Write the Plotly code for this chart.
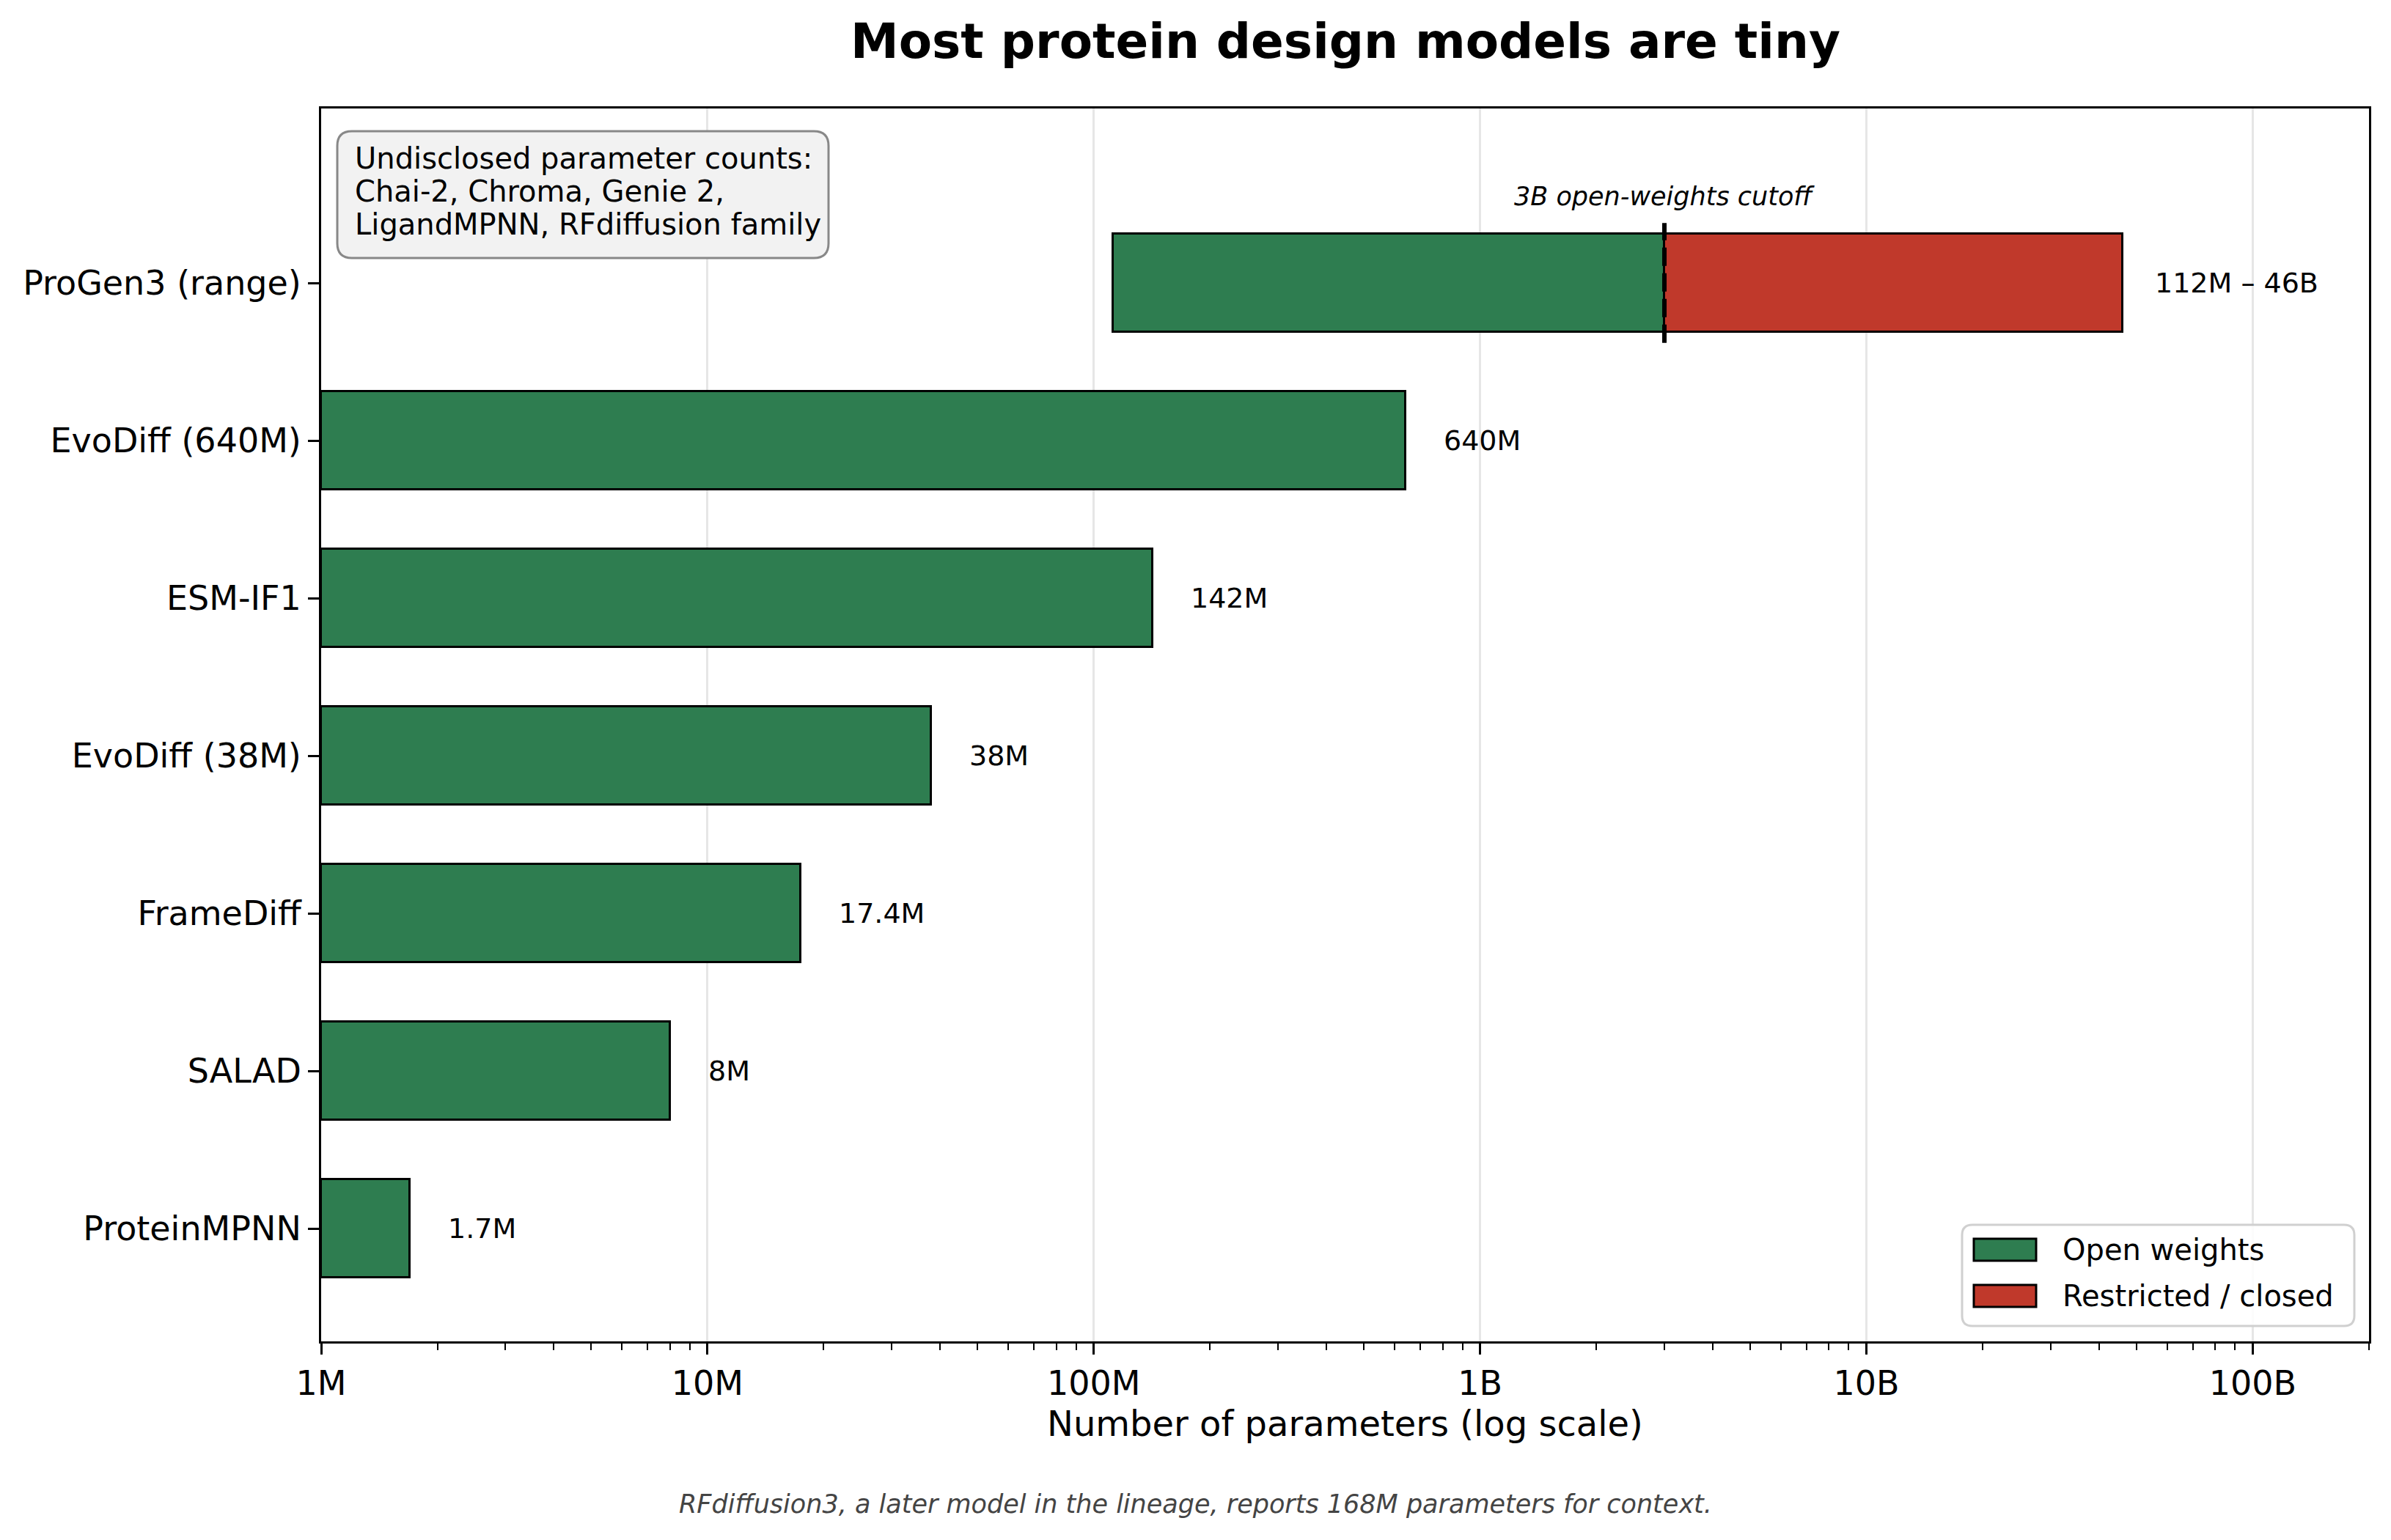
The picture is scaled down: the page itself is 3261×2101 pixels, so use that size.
import math
import plotly.graph_objects as go

# ---------------- data ----------------
models = ["ProteinMPNN", "SALAD", "FrameDiff", "EvoDiff (38M)", "ESM-IF1",
          "EvoDiff (640M)", "ProGen3 (range)"]
open_params = [1.7e6, 8e6, 17.4e6, 38e6, 142e6, 640e6]   # single-size open models
open_labels = ["1.7M", "8M", "17.4M", "38M", "142M", "640M"]
progen_min = 112e6
progen_max = 46e9
progen_label = "112M \u2013 46B"
open_cutoff = 3e9
axis_min = 1e6
axis_max = 2e11
tick_vals = [1e6, 1e7, 1e8, 1e9, 1e10, 1e11]
tick_text = ["1M", "10M", "100M", "1B", "10B", "100B"]
box_lines = ["Undisclosed parameter counts:",
             "Chai-2, Chroma, Genie 2,",
             "LigandMPNN, RFdiffusion family"]

GREEN = "#2e7d50"
RED = "#c0392b"
FONT = "DejaVu Sans, Verdana, sans-serif"

# ---------------- geometry (pixels) ----------------
W, H = 3261, 2101
L, R, T, B = 438, 3231, 148, 1830
PW, PH = R - L, B - T
BAR_W = 0.62

def px2paper(x, y):
    return (x - L) / PW, 1 - (y - T) / PH

def rounded_rect(x0, y0, x1, y1, r):
    rx, ry = r / PW, r / PH
    a0, b0 = px2paper(x0, y0)
    a1, b1 = px2paper(x1, y1)
    return (f"M {a0+rx},{b0} L {a1-rx},{b0} Q {a1},{b0} {a1},{b0-ry} "
            f"L {a1},{b1+ry} Q {a1},{b1} {a1-rx},{b1} L {a0+rx},{b1} "
            f"Q {a0},{b1} {a0},{b1+ry} L {a0},{b0-ry} Q {a0},{b0} {a0+rx},{b0} Z")

n_open = len(open_params)
y_pos = list(range(len(models)))
prog_y = y_pos[-1]

fig = go.Figure()

open_base = [axis_min] * n_open + [progen_min]
open_end = open_params + [open_cutoff]
fig.add_trace(go.Bar(
    y=y_pos, x=[e - b for e, b in zip(open_end, open_base)], base=open_base,
    orientation="h", width=BAR_W, name="Open weights",
    marker=dict(color=GREEN, line=dict(color="black", width=3)),
    showlegend=False, hoverinfo="skip"))

fig.add_trace(go.Bar(
    y=[prog_y], x=[progen_max - open_cutoff], base=[open_cutoff],
    orientation="h", width=BAR_W, name="Restricted / closed",
    marker=dict(color=RED, line=dict(color="black", width=3)),
    showlegend=False, hoverinfo="skip"))

fig.add_trace(go.Scatter(
    x=[open_cutoff, open_cutoff], y=[prog_y - 0.38, prog_y + 0.38],
    mode="lines", line=dict(color="black", width=6, dash="25px,10px"),
    showlegend=False, hoverinfo="skip"))

annotations = []
for yv, v, lab in zip(y_pos[:n_open], open_params, open_labels):
    annotations.append(dict(x=math.log10(v), y=yv, xref="x", yref="y", text=lab,
                            showarrow=False, xanchor="left", yanchor="middle",
                            xshift=50, font=dict(size=38, color="black", family=FONT)))
annotations.append(dict(x=math.log10(progen_max), y=prog_y, xref="x", yref="y",
                        text=progen_label, showarrow=False, xanchor="left",
                        yanchor="middle", xshift=42,
                        font=dict(size=38, color="black", family=FONT)))
annotations.append(dict(x=math.log10(open_cutoff), y=prog_y + 0.55, xref="x", yref="y",
                        text="<i>3B open-weights cutoff</i>", showarrow=False,
                        xanchor="center", yanchor="middle",
                        font=dict(size=35, color="black", family=FONT)))

for i, line in enumerate(box_lines):
    bx, by = px2paper(482, 216 + 45 * i)
    annotations.append(dict(x=bx, y=by, xref="paper", yref="paper", text=line,
                            showarrow=False, xanchor="left", yanchor="middle",
                            align="left",
                            font=dict(size=40, color="black", family=FONT)))

_, tty = px2paper(0, 57)
annotations.append(dict(x=0.5, y=tty, xref="paper", yref="paper",
                        text="<b>Most protein design models are tiny</b>",
                        showarrow=False, xanchor="center", yanchor="middle",
                        font=dict(size=66, color="black", family=FONT)))
_, ty = px2paper(0, 1942)
annotations.append(dict(x=0.5, y=ty, xref="paper", yref="paper",
                        text="Number of parameters (log scale)", showarrow=False,
                        xanchor="center", yanchor="middle",
                        font=dict(size=48, color="black", family=FONT)))
fx, fy = px2paper(W / 2, 2052)
annotations.append(dict(x=fx, y=fy, xref="paper", yref="paper",
                        text="<i>RFdiffusion3, a later model in the lineage, reports 168M parameters for context.</i>",
                        showarrow=False, xanchor="center", yanchor="middle",
                        font=dict(size=35, color="#444444", family=FONT)))

legend_items = [("Open weights", GREEN, 1705), ("Restricted / closed", RED, 1768)]
shapes = [
    dict(type="path", xref="paper", yref="paper",
         path=rounded_rect(460, 179, 1130, 352, 20),
         line=dict(color="#888888", width=3), fillcolor="#f2f2f2", layer="above"),
    dict(type="path", xref="paper", yref="paper",
         path=rounded_rect(2676, 1671, 3211, 1809, 14),
         line=dict(color="#d0d0d0", width=3), fillcolor="rgba(255,255,255,0.85)",
         layer="above"),
]
for lab, col, cy in legend_items:
    x0, y0 = px2paper(2692, cy - 15)
    x1, y1 = px2paper(2777, cy + 15)
    shapes.append(dict(type="rect", xref="paper", yref="paper", x0=x0, x1=x1, y0=y1, y1=y0,
                       fillcolor=col, line=dict(color="black", width=3), layer="above"))
    lx, ly = px2paper(2811, cy)
    annotations.append(dict(x=lx, y=ly, xref="paper", yref="paper", text=lab,
                            showarrow=False, xanchor="left", yanchor="middle",
                            font=dict(size=40, color="black", family=FONT)))

fig.update_layout(
    width=W, height=H,
    margin=dict(l=L, r=W - R, t=T, b=H - B, pad=0),
    paper_bgcolor="white", plot_bgcolor="white",
    barmode="overlay", bargap=0,
    font=dict(family=FONT, color="black"),
    annotations=annotations, shapes=shapes,
    showlegend=False,
    xaxis=dict(type="log", range=[math.log10(axis_min), math.log10(axis_max)],
               tickvals=tick_vals, ticktext=tick_text,
               tickfont=dict(size=46, family=FONT, color="black"),
               ticks="outside", ticklen=15, tickwidth=3, tickcolor="black",
               showgrid=True, gridcolor="#e6e6e6", gridwidth=3,
               minor=dict(dtick="D1", ticks="outside", ticklen=9, tickwidth=2,
                          tickcolor="black", showgrid=False),
               showline=True, linecolor="black", linewidth=3, mirror=True,
               zeroline=False),
    yaxis=dict(range=[-0.716, 7.107], tickvals=y_pos, ticktext=models,
               tickfont=dict(size=46, family=FONT, color="black"),
               ticks="outside", ticklen=15, tickwidth=3, tickcolor="black",
               showgrid=False, zeroline=False,
               showline=True, linecolor="black", linewidth=3, mirror=True),
)

fig.write_html("out.html")
